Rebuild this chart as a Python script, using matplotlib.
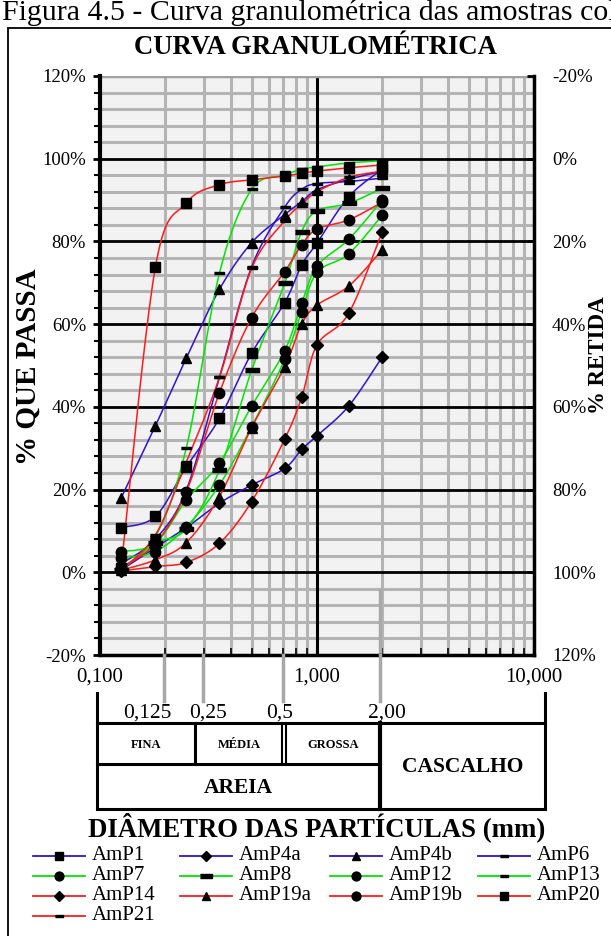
import numpy as np
import matplotlib
matplotlib.use("Agg")
from matplotlib import pyplot as plt
from matplotlib.lines import Line2D
from matplotlib.patches import Rectangle
from matplotlib.ticker import FixedLocator, NullFormatter

plt.rcParams['font.family'] = ['Liberation Serif', 'DejaVu Serif']

# =============================================================================
# Data: sieve openings (mm) and % passing for each sample
# =============================================================================
sieves = [0.125, 0.18, 0.25, 0.355, 0.5, 0.71, 0.85, 1.0, 1.4, 2.0]

AmP1 = [10.8, 13.5, 25.5, 37.2, 53.0, 65.2, 74.3, 79.6, 90.8, 97.5]
AmP4a = [0.5, 6.0, 10.8, 16.7, 21.1, 25.1, 29.7, 33.0, 40.2, 52.1]
AmP4b = [17.9, 35.4, 51.8, 68.4, 79.7, 86.5, 89.6, 92.5, 95.0, 97.0]
AmP6 = [2.0, 8.0, 19.9, 47.1, 73.9, 88.3, 92.6, 94.0, 94.5, 95.3]
AmP7 = [5.0, 7.0, 17.5, 26.4, 40.2, 53.6, 65.0, 74.0, 80.5, 90.0]
AmP8 = [0.5, 7.0, 10.5, 24.7, 48.9, 69.9, 82.4, 87.4, 89.2, 92.9]
AmP12 = [3.5, 5.0, 11.0, 21.1, 35.2, 51.5, 63.0, 72.5, 77.0, 86.4]
AmP13 = [1.0, 8.6, 30.1, 72.3, 92.6, 96.0, 97.5, 98.0, 99.0, 99.5]
AmP14 = [0.3, 1.4, 2.4, 7.0, 17.1, 32.2, 42.3, 55.0, 62.6, 82.4]
AmP19a = [0.5, 3.0, 7.2, 18.3, 35.0, 49.7, 60.0, 64.6, 69.2, 78.0]
AmP19b = [1.0, 7.0, 19.5, 43.4, 61.6, 72.7, 79.2, 83.0, 85.2, 89.5]
AmP20 = [1.0, 73.8, 89.3, 93.7, 94.9, 95.8, 96.5, 97.0, 97.8, 98.5]
AmP21 = [0.5, 9.0, 26.7, 47.1, 73.5, 85.0, 89.0, 92.0, 95.5, 97.0]

names = ['AmP1', 'AmP4a', 'AmP4b', 'AmP6',
         'AmP7', 'AmP8', 'AmP12', 'AmP13',
         'AmP14', 'AmP19a', 'AmP19b', 'AmP20',
         'AmP21']
values = [AmP1, AmP4a, AmP4b, AmP6, AmP7, AmP8, AmP12, AmP13,
          AmP14, AmP19a, AmP19b, AmP20, AmP21]

xtick_vals = [0.1, 1.0, 10.0]
xtick_labels = ['0,100', '1,000', '10,000']
left_ticks = [-20, 0, 20, 40, 60, 80, 100, 120]

# =============================================================================
# Styles
# =============================================================================
BLUE = '#3311cc'
GREEN = '#00e600'
RED = '#ff1a1a'
dash = [(-1, -0.28), (1, -0.28), (1, 0.28), (-1, 0.28)]
wide_dash = [(-1, -0.3), (1, -0.3), (1, 0.3), (-1, 0.3)]
styles = {
    'AmP1': (BLUE, 's', 7), 'AmP4a': (BLUE, 'D', 6), 'AmP4b': (BLUE, '^', 7.5),
    'AmP6': (BLUE, dash, 7),
    'AmP7': (GREEN, 'o', 7.5), 'AmP8': (GREEN, wide_dash, 10), 'AmP12': (GREEN, 'o', 7.5),
    'AmP13': (GREEN, dash, 7),
    'AmP14': (RED, 'D', 6), 'AmP19a': (RED, '^', 7.5), 'AmP19b': (RED, 'o', 7.5),
    'AmP20': (RED, 's', 7), 'AmP21': (RED, dash, 7),
}


def smooth(xs, ys, n=24):
    # Excel-like smoothed line (Catmull-Rom bezier in log-x space)
    u = np.log10(xs)
    p = np.column_stack([u, ys])
    out = [p[0]]
    for i in range(len(p) - 1):
        p0 = p[i - 1] if i > 0 else p[i]
        p1, p2 = p[i], p[i + 1]
        p3 = p[i + 2] if i + 2 < len(p) else p[i + 1]
        c1 = p1 + (p2 - p0) / 6.0
        c2 = p2 - (p3 - p1) / 6.0
        t = np.linspace(0, 1, n)[1:, None]
        seg = ((1 - t) ** 3) * p1 + 3 * ((1 - t) ** 2) * t * c1 + 3 * (1 - t) * t ** 2 * c2 + t ** 3 * p2
        out.extend(seg)
    out = np.array(out)
    return 10 ** out[:, 0], out[:, 1]


W, H = 611, 936
fig = plt.figure(figsize=(W / 100, H / 100), dpi=100)


def fx(px):
    return px / W


def fy(py):
    return 1 - py / H


# =============================================================================
# Main axes
# =============================================================================
ax = fig.add_axes([fx(100), fy(655), (534 - 100) / W, (655 - 76) / H])
ax.set_facecolor('#f2f2f2')
ax.set_xscale('log')
ax.set_xlim(0.1, 10)
ax.set_ylim(-20, 120)

minor_x = [m * 10.0 ** e for e in (-1, 0) for m in range(2, 10)]
for xv in minor_x:
    ax.axvline(xv, color='#b4b4b4', lw=2.2, zorder=1)
ax.axvline(1.0, color='black', lw=2.2, zorder=1.5)
for yv in np.arange(-20, 121, 4):
    if yv % 20 == 0:
        ax.axhline(yv, color='black', lw=2.0, zorder=1.5)
    else:
        ax.axhline(yv, color='#b4b4b4', lw=2.2, zorder=1)
ax.axhline(120, color='#a0a0a0', lw=2.5, zorder=1.6)

for name, vals in zip(names, values):
    col, mk, ms = styles[name]
    sx, sy = smooth(sieves, vals)
    ax.plot(sx, sy, color=col, lw=1.1, zorder=3)
    ax.plot(sieves, vals, ls='none', marker=mk, ms=ms, color='black',
            markeredgecolor='black', zorder=4)

# 2,00 limit line running into the plot bottom
ax.plot([1.95, 1.95], [-4.3, -20], color='#a8a8a8', lw=2.5, zorder=1.7, clip_on=False)

ax.xaxis.set_major_locator(FixedLocator(xtick_vals))
ax.set_xticklabels(xtick_labels, fontsize=15)
ax.xaxis.set_minor_locator(FixedLocator(minor_x))
ax.xaxis.set_minor_formatter(NullFormatter())
ax.tick_params(axis='x', which='major', direction='in', length=7, width=1.5, pad=9)
ax.tick_params(axis='x', which='minor', direction='in', length=5, width=1.2)
ax.yaxis.set_major_locator(FixedLocator(left_ticks))
ax.set_yticklabels([f'{v}%' for v in left_ticks], fontsize=13.5)
ax.yaxis.set_minor_locator(FixedLocator(list(np.arange(-20, 121, 4))))
ax.tick_params(axis='y', which='major', direction='out', length=5, width=2, pad=5)
ax.tick_params(axis='y', which='minor', direction='out', length=4, width=1.5)
ax.spines['left'].set_linewidth(3)
ax.spines['bottom'].set_linewidth(2.5)
ax.spines['top'].set_visible(False)
ax.spines['right'].set_linewidth(2.5)

ax2 = ax.twinx()
ax2.set_ylim(120, -20)
ax2.yaxis.set_major_locator(FixedLocator(left_ticks))
ax2.set_yticklabels([f'{v}%' for v in left_ticks], fontsize=13.5)
ax2.tick_params(axis='y', direction='in', length=5, width=2, pad=13)
for s in ax2.spines.values():
    s.set_visible(False)

# =============================================================================
# Texts and frame
# =============================================================================
fig.text(fx(2), fy(20), 'Figura 4.5 - Curva granulométrica das amostras coletadas',
         fontsize=21.5, va='baseline', ha='left')
fig.add_artist(Rectangle((fx(8), -0.1), 1.0, fy(28) + 0.1,
                         transform=fig.transFigure, fill=False, lw=1.3, ec='black'))
fig.text(fx(315), fy(48), 'CURVA GRANULOMÉTRICA', fontsize=19.3, fontweight='bold',
         ha='center', va='center')
fig.text(fx(28), fy(367), '% QUE PASSA', fontsize=21, fontweight='bold',
         rotation=90, ha='center', va='center')
fig.text(fx(598), fy(355), '% RETIDA', fontsize=16.5, fontweight='bold',
         rotation=90, ha='center', va='center')

# =============================================================================
# Grain-size classification table under the x axis
# =============================================================================
def fline(xs, ys, **kw):
    fig.add_artist(Line2D([fx(v) for v in xs], [fy(v) for v in ys],
                          transform=fig.transFigure, color=kw.pop('color', 'black'), **kw))


for px, lab, lx in [(164, '0,125', 147), (203, '0,25', 208), (283, '0,5', 280), (380, '2,00', 387)]:
    fline([px, px], [655, 701], color='#a8a8a8', lw=2.5)
    fig.text(fx(lx), fy(713), lab, fontsize=15.5, ha='center', va='center')

fline([97, 97], [693, 809], lw=2.2)
fline([545, 545], [693, 809], lw=2.2)
fline([97, 545], [723, 723], lw=2.2)
fline([97, 545], [809, 809], lw=2.2)
fline([97, 380], [764, 764], lw=2.2)
fline([195, 195], [723, 764], lw=2.2)
fline([282, 282], [723, 764], lw=1.5)
fline([286, 286], [723, 764], lw=1.5)
fline([380, 380], [723, 809], lw=3)

fig.text(fx(146), fy(745), 'FINA', fontsize=9, fontweight='bold', ha='center', va='center')
fig.text(fx(239), fy(745), 'MÉDIA', fontsize=9, fontweight='bold', ha='center', va='center')
fig.text(fx(333), fy(745), 'GROSSA', fontsize=9, fontweight='bold', ha='center', va='center')
fig.text(fx(238), fy(788), 'AREIA', fontsize=15.5, fontweight='bold', ha='center', va='center')
fig.text(fx(463), fy(767), 'CASCALHO', fontsize=15.5, fontweight='bold', ha='center', va='center')
fig.text(fx(317), fy(827), 'DIÂMETRO DAS PARTÍCULAS (mm)', fontsize=19.3,
         fontweight='bold', ha='center', va='center')

# =============================================================================
# Legend (row-wise, 4 columns)
# =============================================================================
col_x = [33, 180, 330, 478]
row_y = [856, 876, 896, 916]
for i, name in enumerate(names):
    col, mk, ms = styles[name]
    x0 = col_x[i % 4]
    y0 = row_y[i // 4]
    fig.add_artist(Line2D([fx(x0), fx(x0 + 52)], [fy(y0), fy(y0)], transform=fig.transFigure,
                          color=col, lw=1.3))
    fig.add_artist(Line2D([fx(x0 + 26)], [fy(y0)], transform=fig.transFigure, ls='none',
                          marker=mk, ms=ms * 0.85, color='black'))
    fig.text(fx(x0 + 59), fy(y0), name, fontsize=15, ha='left', va='center')

fig.savefig('out.png', dpi=100)
